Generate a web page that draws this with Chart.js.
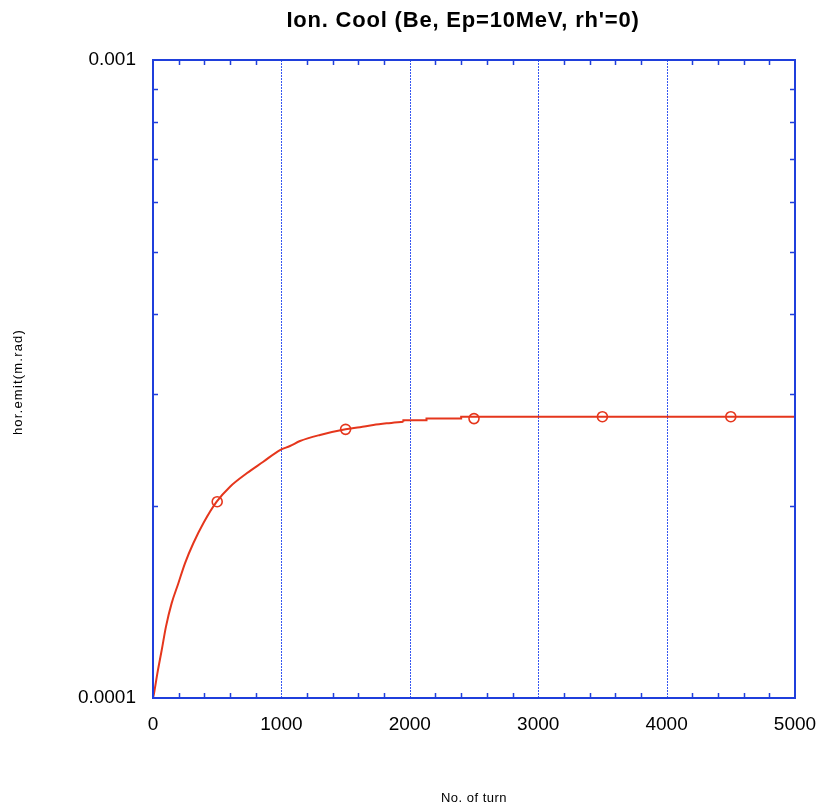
<!DOCTYPE html>
<html>
<head>
<meta charset="utf-8">
<script src="https://cdn.jsdelivr.net/npm/chart.js@4/dist/chart.umd.min.js"></script>
<style>
html,body{margin:0;padding:0;background:#fff;}
canvas{display:block;}
</style>
</head>
<body>
<canvas id="c" width="820" height="808"></canvas>
<script>
// Rising part of the curve (turn, hor. emittance)
const riseTurns = [0, 8, 34, 68, 101, 145, 197, 249, 314, 392, 496, 600, 730, 859, 989, 1067, 1145, 1301, 1500, 1612, 1716, 1820, 1950];
const riseEmit  = [1.0e-4, 1.017e-4, 1.093e-4, 1.189e-4, 1.294e-4, 1.407e-4, 1.512e-4, 1.626e-4, 1.748e-4, 1.879e-4, 2.031e-4, 2.144e-4, 2.250e-4, 2.346e-4, 2.447e-4, 2.483e-4, 2.528e-4, 2.584e-4, 2.637e-4, 2.657e-4, 2.679e-4, 2.695e-4, 2.711e-4];
// Flat, stepped tail of the curve
const tailTurns = [1950, 2130, 2400, 2920, 5000];
const tailEmit  = [2.711e-4, 2.725e-4, 2.741e-4, 2.760e-4, 2.760e-4];
// Marker points
const markTurns = [500, 1500, 2500, 3500, 4500];
const markEmit  = [2.031e-4, 2.637e-4, 2.741e-4, 2.760e-4, 2.760e-4];
// Axis ticks
const xTicks = [0, 1000, 2000, 3000, 4000, 5000];
const xGridLines = [1000, 2000, 3000, 4000];
const xMinor = [200,400,600,800,1200,1400,1600,1800,2200,2400,2600,2800,3200,3400,3600,3800,4200,4400,4600,4800];
const yLabelled = [1e-4, 1e-3];
const yMinor = [2e-4,3e-4,4e-4,5e-4,6e-4,7e-4,8e-4,9e-4];

const titleText = "Ion. Cool (Be, Ep=10MeV, rh'=0)";
const xTitle = "No. of turn";
const yTitle = "hor.emit(m.rad)";

const BLUE = '#1f3fdc';
const GRIDBLUE = '#3556f2';
const RED = '#e5361c';
const FONT = '"Liberation Sans", Arial, sans-serif';

const riseData = riseTurns.map((t,i)=>({x:t, y:riseEmit[i]}));
const tailData = tailTurns.map((t,i)=>({x:t, y:tailEmit[i]}));
const markData = markTurns.map((t,i)=>({x:t, y:markEmit[i]}));

const framePlugin = {
  id:'frame',
  beforeDatasetsDraw(chart){
    const {ctx, chartArea:a, scales:{x}} = chart;
    ctx.save();
    ctx.strokeStyle = GRIDBLUE;
    ctx.lineWidth = 1;
    ctx.setLineDash([2,1]);
    xGridLines.forEach(v=>{
      const px = Math.round(x.getPixelForValue(v))+0.5;
      ctx.beginPath(); ctx.moveTo(px,a.top); ctx.lineTo(px,a.bottom); ctx.stroke();
    });
    ctx.restore();
  },
  afterDraw(chart){
    const {ctx, chartArea:a, scales:{x,y}} = chart;
    ctx.save();
    ctx.strokeStyle = BLUE;
    ctx.lineWidth = 1.5;
    const L = 5;
    xMinor.forEach(v=>{
      const px = Math.round(x.getPixelForValue(v))+0.5;
      ctx.beginPath();
      ctx.moveTo(px,a.bottom); ctx.lineTo(px,a.bottom-L);
      ctx.moveTo(px,a.top); ctx.lineTo(px,a.top+L);
      ctx.stroke();
    });
    yMinor.forEach(v=>{
      const py = Math.round(y.getPixelForValue(v))+0.5;
      ctx.beginPath();
      ctx.moveTo(a.left,py); ctx.lineTo(a.left+L,py);
      ctx.moveTo(a.right,py); ctx.lineTo(a.right-L,py);
      ctx.stroke();
    });
    ctx.lineWidth = 2;
    ctx.strokeRect(a.left, a.top, a.right-a.left, a.bottom-a.top);
    // texts
    ctx.fillStyle = '#000';
    ctx.textAlign = 'center';
    ctx.textBaseline = 'middle';
    ctx.font = 'bold 22px ' + FONT;
    ctx.letterSpacing = '0.8px';
    ctx.fillText(titleText, 463, 21);
    ctx.font = '13px ' + FONT;
    ctx.letterSpacing = '0.5px';
    ctx.fillText(xTitle, (a.left+a.right)/2, 798);
    ctx.letterSpacing = '1.2px';
    ctx.translate(18, 382);
    ctx.rotate(-Math.PI/2);
    ctx.fillText(yTitle, 0, 0);
    ctx.restore();
  }
};

new Chart(document.getElementById('c'), {
  type:'line',
  data:{
    datasets:[
      {data:riseData, borderColor:RED, borderWidth:2, pointRadius:0, cubicInterpolationMode:'monotone', fill:false},
      {data:tailData, borderColor:RED, borderWidth:2, pointRadius:0, stepped:'after', fill:false},
      {data:markData, showLine:false, borderColor:RED, backgroundColor:'rgba(0,0,0,0)', pointRadius:5, pointBorderWidth:1.6, pointStyle:'circle'}
    ]
  },
  options:{
    responsive:false,
    animation:false,
    devicePixelRatio:1,
    layout:{padding:{top:60, right:25, left:0, bottom:0}},
    plugins:{legend:{display:false}, tooltip:{enabled:false}, title:{display:false}},
    scales:{
      x:{
        type:'linear', min:0, max:5000,
        grid:{display:false},
        border:{display:false},
        afterFit(s){ s.height = 110; s.paddingLeft = 0; s.paddingRight = 0; },
        afterBuildTicks(s){ s.ticks = xTicks.map(v=>({value:v})); },
        ticks:{color:'#000', padding:7, font:{family:FONT, size:19}, maxRotation:0, autoSkip:false,
          callback(v){ return String(v); }}
      },
      y:{
        type:'logarithmic', min:1e-4, max:1e-3,
        grid:{display:false},
        border:{display:false},
        afterFit(s){ s.width = 153; s.paddingTop = 0; s.paddingBottom = 0; },
        afterBuildTicks(s){ s.ticks = yLabelled.map(v=>({value:v})); },
        ticks:{color:'#000', padding:9, font:{family:FONT, size:19},
          callback(v){ return v===1e-3 ? '0.001' : (v===1e-4 ? '0.0001' : ''); }}
      }
    }
  },
  plugins:[framePlugin]
});
</script>
</body>
</html>
